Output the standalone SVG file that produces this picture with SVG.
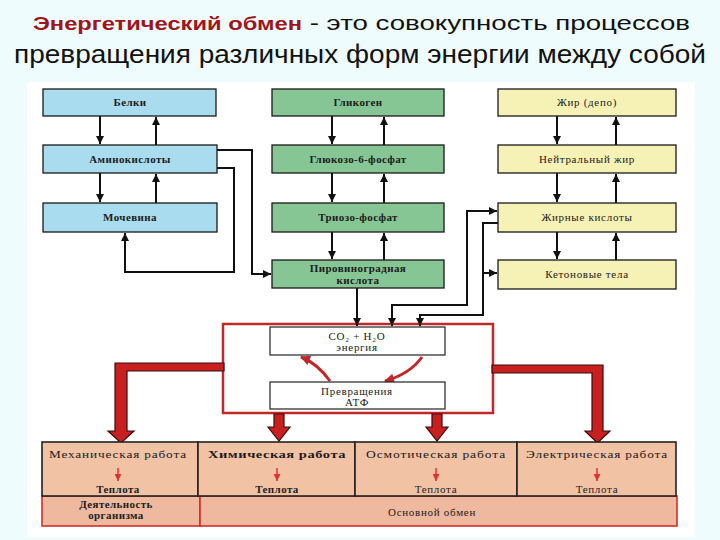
<svg xmlns="http://www.w3.org/2000/svg" width="720" height="540" viewBox="0 0 720 540">
<defs>
<marker id="ah" viewBox="0 0 10 10" refX="10" refY="5" markerWidth="9" markerHeight="8" markerUnits="userSpaceOnUse" orient="auto-start-reverse">
<path d="M0,0 L10,5 L0,10 z" fill="#111"/>
</marker>
<marker id="rh" viewBox="0 0 10 10" refX="9" refY="5" markerWidth="11" markerHeight="10" markerUnits="userSpaceOnUse" orient="auto">
<path d="M0,0 L10,5 L0,10 z" fill="#c0282a"/>
</marker>
<marker id="sh" viewBox="0 0 10 10" refX="10" refY="5" markerWidth="7" markerHeight="7" markerUnits="userSpaceOnUse" orient="auto">
<path d="M0,0 L10,5 L0,10 z" fill="#e0303a"/>
</marker>
<style>
.bx{stroke:#1a1a1a;stroke-width:1.3}
.blue{fill:#a9dcee}
.green{fill:#86c594}
.yel{fill:#f6f1b4}
.tbl{fill:#f1c2a4;stroke:#222;stroke-width:1.6}
.tbl2{fill:#efb9a0;stroke:#d0302a;stroke-width:1.6}
.t{font-family:"Liberation Serif",serif;font-weight:bold;font-size:11px;fill:#1c1c1c;text-anchor:middle;letter-spacing:0.4px}
.tw{font-family:"Liberation Serif",serif;font-size:11px;fill:#1c1c1c;text-anchor:middle;letter-spacing:0.7px}
.ln{fill:none;stroke:#111;stroke-width:2}
.big{fill:#c8201e;stroke:#3a0c0c;stroke-width:1.2}
</style>
</defs>
<rect x="0" y="0" width="720" height="540" fill="#effcfd"/>
<rect x="27" y="82" width="668" height="455" fill="#ffffff"/>
<text x="33" y="30" font-family="Liberation Sans, Arial, sans-serif" font-size="21" textLength="657" lengthAdjust="spacingAndGlyphs"><tspan font-weight="bold" font-size="18" fill="#a0151a">Энергетический обмен</tspan><tspan fill="#111"> - это совокупность процессов</tspan></text>
<text x="14" y="63" font-family="Liberation Sans, Arial, sans-serif" font-size="25" fill="#111" textLength="692" lengthAdjust="spacingAndGlyphs">превращения различных форм энергии между собой</text>

<g id="red-frame"><rect x="223" y="324" width="270" height="89" fill="#ffffff" stroke="#c0282a" stroke-width="2.5"/></g>

<g id="connectors">
<path class="ln" d="M100,116 V144" marker-end="url(#ah)"/>
<path class="ln" d="M156,145 V117" marker-end="url(#ah)"/>
<path class="ln" d="M100,173 V202" marker-end="url(#ah)"/>
<path class="ln" d="M156,203 V174" marker-end="url(#ah)"/>
<path class="ln" d="M332,116 V144" marker-end="url(#ah)"/>
<path class="ln" d="M384,145 V117" marker-end="url(#ah)"/>
<path class="ln" d="M332,173 V202" marker-end="url(#ah)"/>
<path class="ln" d="M384,203 V174" marker-end="url(#ah)"/>
<path class="ln" d="M332,232 V259" marker-end="url(#ah)"/>
<path class="ln" d="M384,260 V233" marker-end="url(#ah)"/>
<path class="ln" d="M557,116 V144" marker-end="url(#ah)"/>
<path class="ln" d="M616,145 V117" marker-end="url(#ah)"/>
<path class="ln" d="M557,173 V202" marker-end="url(#ah)"/>
<path class="ln" d="M616,203 V174" marker-end="url(#ah)"/>
<path class="ln" d="M557,232 V259" marker-end="url(#ah)"/>
<path class="ln" d="M616,260 V233" marker-end="url(#ah)"/>
<path class="ln" d="M217,150 H252 V274 H271" marker-end="url(#ah)"/>
<path class="ln" d="M217,168 H234 V272 H125 V233" marker-end="url(#ah)"/>
<path class="ln" d="M357,288 V326" marker-end="url(#ah)"/>
<path class="ln" d="M392,326 V305 H467 V211 H497" marker-start="url(#ah)" marker-end="url(#ah)"/>
<path class="ln" d="M498,223 H483 V315 H420 V326" marker-end="url(#ah)"/>
<path class="ln" d="M483,273 H497" marker-end="url(#ah)"/>
<path d="M330,381 Q318,364 301,357" fill="none" stroke="#c0282a" stroke-width="3" marker-end="url(#rh)"/>
<path d="M422,357 Q410,374 385,381" fill="none" stroke="#c0282a" stroke-width="3" marker-end="url(#rh)"/>
<polygon class="big" points="224,363 115,363 115,431 108,431 121,443 134,431 127,431 127,371 224,371"/>
<polygon class="big" points="492,365 603,365 603,431 610,431 597.5,443 585,431 592,431 592,373 492,373"/>
<polygon class="big" points="274,414 284,414 284,427 290,427 279,441 268,427 274,427"/>
<polygon class="big" points="432,414 442,414 442,427 448,427 437,441 426,427 432,427"/>
</g>

<g id="belki"><rect class="bx blue" x="43" y="89" width="173" height="27"/><text class="t" x="130" y="106">Белки</text></g>
<g id="aminokisloty"><rect class="bx blue" x="43" y="145" width="174" height="28"/><text class="t" x="130" y="163" letter-spacing="1">Аминокислоты</text></g>
<g id="mochevina"><rect class="bx blue" x="43" y="203" width="174" height="29"/><text class="t" x="130" y="221">Мочевина</text></g>

<g id="glikogen"><rect class="bx green" x="272" y="89" width="172" height="27"/><text class="t" x="358" y="106">Гликоген</text></g>
<g id="glukozo"><rect class="bx green" x="272" y="145" width="172" height="28"/><text class="t" x="358" y="163">Глюкозо-6-фосфат</text></g>
<g id="triozo"><rect class="bx green" x="272" y="203" width="172" height="29"/><text class="t" x="358" y="221">Триозо-фосфат</text></g>
<g id="piruvat"><rect class="bx green" x="272" y="260" width="172" height="28"/><text class="t" x="358" y="272">Пировиноградная</text><text class="t" x="358" y="284">кислота</text></g>

<g id="zhir-depo"><rect class="bx yel" x="498" y="89" width="178" height="27"/><text class="tw" x="587" y="106">Жир (депо)</text></g>
<g id="neitr-zhir"><rect class="bx yel" x="498" y="145" width="178" height="28"/><text class="tw" x="587" y="163">Нейтральный жир</text></g>
<g id="zhirnye"><rect class="bx yel" x="498" y="203" width="178" height="29"/><text class="tw" x="587" y="221">Жирные кислоты</text></g>
<g id="ketonovye"><rect class="bx yel" x="498" y="260" width="178" height="29"/><text class="tw" x="587" y="278">Кетоновые тела</text></g>

<g id="co2"><rect x="270" y="327" width="175" height="28" fill="#ffffff" stroke="#222" stroke-width="1.2"/><text class="tw" x="357" y="340">CO₂ + H₂O</text><text class="tw" x="357" y="351">энергия</text></g>
<g id="atf"><rect x="270" y="382" width="175" height="27" fill="#ffffff" stroke="#222" stroke-width="1.2"/><text class="tw" x="357" y="395">Превращения</text><text class="tw" x="357" y="406">АТФ</text></g>

<g id="table">
<rect class="tbl2" x="42" y="496" width="158" height="30"/>
<rect class="tbl2" x="200" y="496" width="477" height="30"/>
<rect class="tbl" x="42" y="442" width="156" height="54"/>
<rect class="tbl" x="198" y="442" width="157" height="54"/>
<rect class="tbl" x="355" y="442" width="162" height="54"/>
<rect class="tbl" x="517" y="442" width="159" height="54"/>
</g>
<g id="meh"><text class="tw" x="118" y="458" textLength="138" lengthAdjust="spacingAndGlyphs">Механическая работа</text><path d="M118,468 V481" stroke="#e0303a" stroke-width="1.5" marker-end="url(#sh)"/><text class="t" x="118" y="493" letter-spacing="1">Теплота</text></g>
<g id="him"><text class="t" x="277" y="458" textLength="138" lengthAdjust="spacingAndGlyphs">Химическая  работа</text><path d="M277,468 V481" stroke="#e0303a" stroke-width="1.5" marker-end="url(#sh)"/><text class="t" x="277" y="493" letter-spacing="1">Теплота</text></g>
<g id="osm"><text class="tw" x="436" y="458" textLength="140" lengthAdjust="spacingAndGlyphs">Осмотическая работа</text><path d="M436,468 V481" stroke="#e0303a" stroke-width="1.5" marker-end="url(#sh)"/><text class="tw" x="436" y="493">Теплота</text></g>
<g id="el"><text class="tw" x="597" y="458" textLength="142" lengthAdjust="spacingAndGlyphs">Электрическая работа</text><path d="M597,468 V481" stroke="#e0303a" stroke-width="1.5" marker-end="url(#sh)"/><text class="tw" x="597" y="493">Теплота</text></g>
<g id="deyat"><text class="t" x="116" y="508">Деятельность</text><text class="t" x="116" y="519">организма</text></g>
<g id="osnov"><text class="tw" x="432" y="516">Основной обмен</text></g>
</svg>
